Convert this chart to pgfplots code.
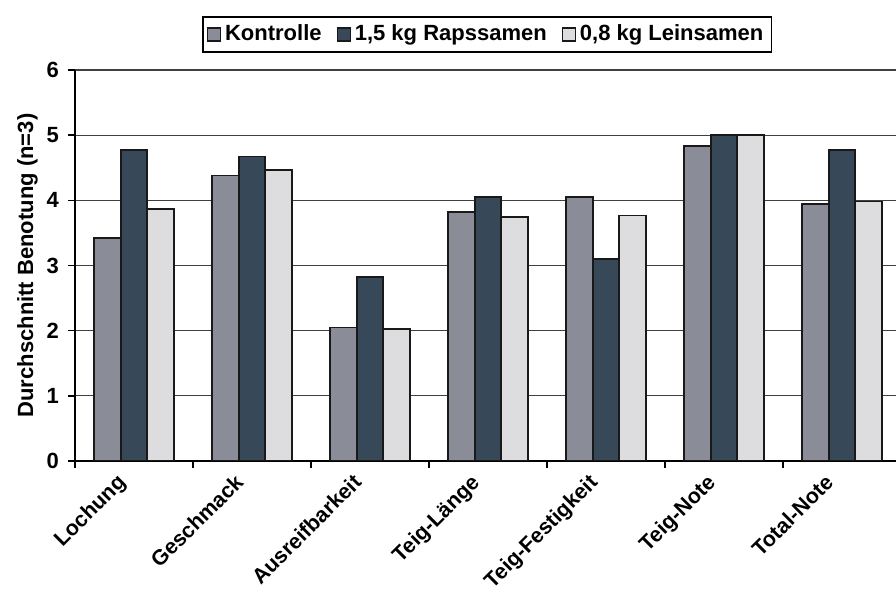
\documentclass[border=0pt]{standalone}
\usepackage{pgfplots}
\pgfplotsset{compat=1.18}
\usepackage{fontspec}
\setmainfont{Liberation Sans}
\definecolor{cK}{HTML}{8A8C98}
\definecolor{cR}{HTML}{374858}
\definecolor{cL}{HTML}{DDDDE0}
\begin{document}
\begin{tikzpicture}
\begin{axis}[
  scale only axis,
  width=410.5pt, height=195.5pt,
  at={(0pt,0pt)}, anchor=south west,
  ybar=0pt, bar width=13.25pt,
  xmin=-0.5, xmax=6.458,
  ymin=0, ymax=6,
  ytick={0,1,...,6},
  xtick={0,1,...,6},
  xticklabels={Lochung,Geschmack,Ausreifbarkeit,Teig-Länge,Teig-Festigkeit,Teig-Note,Total-Note},
  minor xtick={-0.5,0.5,...,5.5},
  major x tick style={draw=none},
  minor x tick style={black, line width=0.8pt},
  minor tick length=3.5pt,
  major tick length=3.5pt,
  tick align=outside,
  y tick style={black, line width=0.8pt},
  axis x line*=bottom,
  axis y line*=left,
  axis line style={black, line width=1pt, -},
  ymajorgrids,
  grid style={black!75, line width=0.6pt},
  font=\fontsize{11}{13.2}\selectfont\bfseries,
  tick label style={font=\fontsize{11}{13.2}\selectfont\bfseries},
  /pgf/number format/assume math mode=true,
  xticklabel style={rotate=45, anchor=north east, inner sep=1pt, yshift=6pt, xshift=-7pt, font=\fontsize{10.7}{12.8}\selectfont\bfseries},
  yticklabel style={xshift=-1pt},
  ylabel={Durchschnitt Benotung (n=3)},
  ylabel style={at={(axis description cs:-0.058,0.5)}, anchor=center, font=\fontsize{11}{13.2}\selectfont\bfseries},
  legend columns=3,
  legend style={at={(axis description cs:0.502,1.0908)}, anchor=center,
    draw=black, line width=0.8pt, inner sep=2pt,
    font=\fontsize{11}{13.2}\selectfont\bfseries,
    /tikz/every even column/.append style={column sep=5.5pt}},
  legend image code/.code={\draw[#1, line width=0.6pt] (0pt,-3.25pt) rectangle (6.5pt,3.25pt);},
  every axis plot/.append style={draw=black!90, line width=0.8pt},
]
\addplot[fill=cK] coordinates {(0,3.42) (1,4.38) (2,2.05) (3,3.82) (4,4.05) (5,4.83) (6,3.94)};
\addplot[fill=cR] coordinates {(0,4.77) (1,4.67) (2,2.82) (3,4.05) (4,3.10) (5,5.00) (6,4.77)};
\addplot[fill=cL] coordinates {(0,3.87) (1,4.47) (2,2.03) (3,3.74) (4,3.77) (5,5.00) (6,3.98)};
\legend{Kontrolle,{1,5 kg Rapssamen},{0,8 kg Leinsamen}}
\end{axis}
\pgfresetboundingbox
\path[use as bounding box] (-37.5pt,-65.5pt) rectangle (410.5pt,230.5pt);
\end{tikzpicture}
\end{document}
